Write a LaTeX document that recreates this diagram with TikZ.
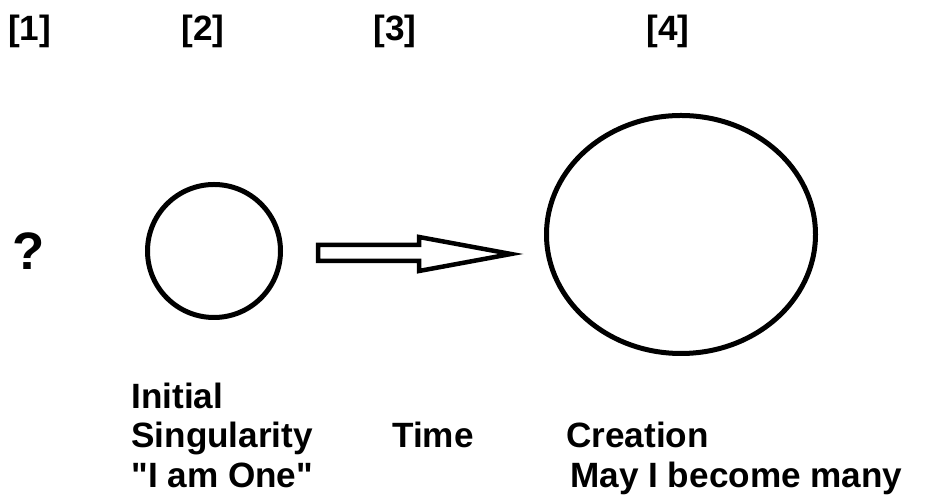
\documentclass[tikz,border=0pt]{standalone}
\usepackage{fontspec}
\setmainfont{Liberation Sans}
\usetikzlibrary{calc}
\tikzset{
  lbl/.style={font=\bfseries\fontsize{20}{24}\selectfont, inner sep=0pt},
  num/.style={lbl, anchor=base},
  word/.style={lbl, anchor=base west},
  ring/.style={line width=0.1cm},
}

\begin{document}
\begin{tikzpicture}
  \useasboundingbox (0,0) rectangle (18.7,10.08);
  \node[num] (n1) at (0.59,9.26) {[1]};
  \node[num] (n2) at (4.06,9.26) {[2]};
  \node[num] (n3) at (7.90,9.26) {[3]};
  \node[num] (n4) at (13.36,9.26) {[4]};
  \node[lbl, anchor=base, font=\bfseries\fontsize{30}{34}\selectfont] (ask) at (0.57,4.68) {?};
  \draw[ring] (4.28,5.06) circle (1.33);
  \draw[ring] (13.62,5.39) ellipse (2.69 and 2.38);
  \draw[line width=0.09cm] (6.36,5.18) -- (8.38,5.18) -- (8.38,5.34) -- (10.22,5.00)
    -- (8.38,4.66) -- (8.38,4.86) -- (6.36,4.86) -- cycle;
  \node[word] (init) at (2.62,1.90) {Initial};
  \node[word] (sing) at (2.62,1.12) {Singularity};
  \node[word] (one) at (2.62,0.32) {\textquotedbl I am One\textquotedbl};
  \node[word] (time) at (7.84,1.12) {Time};
  \node[word] (crea) at (11.32,1.12) {Creation};
  \node[word] (many) at (11.40,0.32) {May I become many};
\end{tikzpicture}
\end{document}
